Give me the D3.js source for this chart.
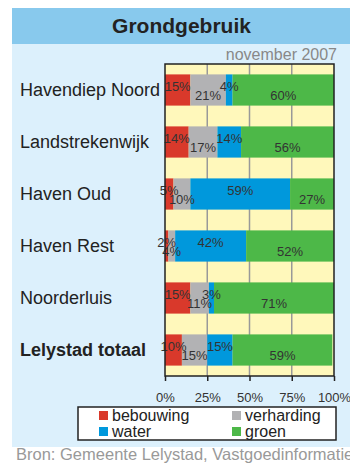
<!DOCTYPE html>
<html>
<head>
<meta charset="utf-8">
<script src="https://cdn.jsdelivr.net/npm/d3@7"></script>
<style>
  html, body { margin: 0; padding: 0; background: #ffffff; }
  svg { display: block; font-family: "Liberation Sans", Arial, sans-serif; }
</style>
</head>
<body>
<svg id="chart" width="350" height="463"></svg>
<script>
// Land use per district (percent), November 2007
const categories = ["Havendiep Noord", "Landstrekenwijk", "Haven Oud", "Haven Rest", "Noorderluis", "Lelystad totaal"];
const seriesNames = ["bebouwing", "verharding", "water", "groen"];
const bebouwing  = [15, 14, 5, 2, 15, 10];
const verharding = [21, 17, 10, 4, 11, 15];
const water      = [4, 14, 59, 42, 3, 15];
const groen      = [60, 56, 27, 52, 71, 59];
const tickValues = [0, 25, 50, 75, 100];

const colors = ["#d9392b", "#b2b2b4", "#0098dc", "#4db848"];
const seriesValues = [bebouwing, verharding, water, groen];

const svg = d3.select("#chart");

// Panel background and title band
svg.append("rect").attr("x", 12).attr("y", 8).attr("width", 338).attr("height", 439).attr("fill", "#dcf0fc");
svg.append("rect").attr("x", 12).attr("y", 8).attr("width", 338).attr("height", 36).attr("fill", "#88c9ed");
svg.append("text").attr("x", 181.5).attr("y", 33).attr("text-anchor", "middle")
  .attr("font-size", 21).attr("font-weight", "bold").attr("fill", "#222").text("Grondgebruik");
svg.append("text").attr("x", 337).attr("y", 60).attr("text-anchor", "end")
  .attr("font-size", 16).attr("fill", "#888").text("november 2007");

const plot = { left: 165, right: 334, top: 64, bottom: 376 };

const x = d3.scaleLinear().domain([0, 100]).range([plot.left, plot.right]);
const y = d3.scaleBand().domain(categories).range([plot.top, plot.bottom])
  .paddingInner(0.4).paddingOuter(0.2);

svg.append("defs").append("clipPath").attr("id", "plotClip")
  .append("rect").attr("x", plot.left).attr("y", plot.top)
  .attr("width", plot.right - plot.left).attr("height", plot.bottom - plot.top);

// Plot background and grid
svg.append("rect").attr("x", plot.left).attr("y", plot.top)
  .attr("width", plot.right - plot.left).attr("height", plot.bottom - plot.top)
  .attr("fill", "#fff8bb");
svg.append("g").selectAll("line").data(tickValues.slice(1, -1)).join("line")
  .attr("x1", d => x(d)).attr("x2", d => x(d))
  .attr("y1", plot.top).attr("y2", plot.bottom)
  .attr("stroke", "#999").attr("stroke-width", 1.5);

// Stacked bars
const rows = categories.map((c, i) => {
  const obj = { cat: c };
  seriesNames.forEach((s, j) => obj[s] = seriesValues[j][i]);
  return obj;
});
const stacked = d3.stack().keys(seriesNames)(rows);

const barG = svg.append("g").attr("clip-path", "url(#plotClip)");
stacked.forEach((layer, j) => {
  barG.append("g").attr("fill", colors[j]).selectAll("rect").data(layer).join("rect")
    .attr("x", d => x(d[0]))
    .attr("y", d => y(d.data.cat))
    .attr("width", d => Math.max(0, Math.min(x(d[1]), plot.right) - x(d[0])))
    .attr("height", y.bandwidth());
});

// Value labels, alternating up / down to reduce overlap
const labelG = svg.append("g").attr("font-size", 13).attr("fill", "#333").attr("text-anchor", "middle");
stacked.forEach((layer, j) => {
  labelG.selectAll(null).data(layer).join("text")
    .attr("x", d => (x(d[0]) + x(Math.min(d[1], 100))) / 2)
    .attr("y", d => y(d.data.cat) + y.bandwidth() / 2 + (j % 2 === 0 ? -4 : 5))
    .attr("dy", "0.35em")
    .text(d => d.data[seriesNames[j]] + "%");
});

// Plot frame
svg.append("rect").attr("x", plot.left).attr("y", plot.top)
  .attr("width", plot.right - plot.left).attr("height", plot.bottom - plot.top)
  .attr("fill", "none").attr("stroke", "#222").attr("stroke-width", 1.5);

// Category labels
svg.append("g").selectAll("text").data(categories).join("text")
  .attr("x", 20)
  .attr("y", d => y(d) + y.bandwidth() / 2)
  .attr("dy", "0.35em")
  .attr("font-size", 18)
  .attr("font-weight", (d, i) => i === categories.length - 1 ? "bold" : "normal")
  .attr("fill", "#222")
  .text(d => d);

// Bottom axis
const axis = svg.append("g").attr("transform", `translate(0,${plot.bottom})`)
  .call(d3.axisBottom(x).tickValues(tickValues).tickFormat(d => d + "%").tickSize(5).tickPadding(12));
axis.select(".domain").remove();
axis.selectAll(".tick line").attr("stroke", "#222").attr("stroke-width", 1.5);
axis.selectAll(".tick text").attr("font-size", 13).attr("fill", "#333")
  .attr("font-family", "\"Liberation Sans\", Arial, sans-serif");

// Legend
const legend = svg.append("g");
legend.append("rect").attr("x", 78).attr("y", 407).attr("width", 258).attr("height", 33)
  .attr("fill", "#ffffff").attr("stroke", "#222").attr("stroke-width", 1.5);
const legendPos = [[99, 411], [232, 411], [99, 427], [232, 427]];
seriesNames.forEach((s, j) => {
  const [lx, ly] = legendPos[j];
  legend.append("rect").attr("x", lx).attr("y", ly).attr("width", 9).attr("height", 9).attr("fill", colors[j]);
  legend.append("text").attr("x", lx + 13).attr("y", ly + 10).attr("font-size", 16).attr("fill", "#222").text(s);
});

// Source line
svg.append("text").attr("x", 16).attr("y", 460).attr("font-size", 16.5).attr("fill", "#999")
  .text("Bron: Gemeente Lelystad, Vastgoedinformatie");
</script>
</body>
</html>
